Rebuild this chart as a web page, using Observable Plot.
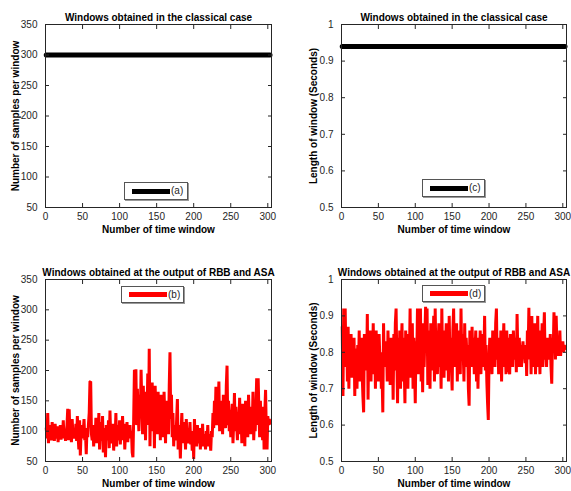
<!DOCTYPE html>
<html><head><meta charset="utf-8">
<script src="https://cdn.jsdelivr.net/npm/d3@7"></script>
<script src="https://cdn.jsdelivr.net/npm/@observablehq/plot@0.6"></script>
<style>
body{margin:0;background:#fff;}
#root{position:relative;width:571px;height:491px;overflow:hidden;background:#fff;font-family:"Liberation Sans",Arial,Helvetica,sans-serif;}
.panel{position:absolute;}
.legend{position:absolute;box-sizing:border-box;border:1px solid #555;background:#fff;box-shadow:1px 1px 0 #999;}
.legend .sw{position:absolute;}
.legend .lb{position:absolute;font-size:10px;line-height:10px;color:#262626;}
</style></head><body><div id="root"></div>
<script>
const xTicks = [0, 50, 100, 150, 200, 250, 300];
const sampleTicks = [50, 100, 150, 200, 250, 300, 350];
const secondTicks = [0.5, 0.6, 0.7, 0.8, 0.9, 1];
const titleClassical = "Windows obtained in the classical case";
const titleAdaptive = "Windows obtained at the output of RBB and ASA";
const xLabel = "Number of time window";
const ySamplesLabel = "Number of samples per window";
const yLengthLabel = "Length of window (Seconds)";
const legendLabels = ["(a)", "(b)", "(c)", "(d)"];
const windowCount = 303;
const classicalSamples = 300;
const classicalLength = 0.94;
const adaptiveSamples = [
105,88,130,80,110,92,100,85,115,90,
98,84,112,95,88,108,82,100,94,110,
86,104,92,118,88,100,84,96,110,137,
85,136,92,100,82,120,95,88,105,90,
112,84,125,92,70,118,60,98,110,88,
100,120,85,95,62,105,90,112,130,181,
182,95,85,110,75,100,88,122,80,108,
92,130,70,100,115,84,125,65,105,90,
57,110,95,85,118,72,134,90,100,80,
112,68,102,88,130,75,110,92,85,118,
78,108,95,125,85,112,70,100,90,115,
82,105,95,110,88,100,65,57,
120,201,150,202,110,170,130,
100,160,125,201,140,95,175,118,150,85,
165,120,195,110,236,75,160,130,180,100,
150,72,175,120,140,95,165,110,135,85,
160,100,145,90,165,125,80,150,105,140,
95,175,230,120,160,90,130,75,110,100,
85,120,153,70,110,95,55,100,130,80,
115,88,100,70,120,92,80,105,85,115,
78,100,68,95,54,120,85,100,75,110,
90,80,105,70,98,85,112,75,95,88,
70,100,82,110,75,95,85,68,100,90,
130,105,150,120,173,110,172,140,182,100,
150,115,135,95,160,120,140,105,175,208,
110,150,100,135,90,125,145,80,115,163,
100,140,110,85,130,115,155,95,120,80,
145,105,130,75,150,110,125,90,160,115,
140,95,130,105,165,85,120,100,140,187,
110,187,135,90,150,110,125,85,140,70,
130,168,100,70,125,110,120,113
];
const adaptiveLength = [
0.87,0.68,0.92,0.76,0.92,0.78,0.86,0.72,0.87,0.70,
0.84,0.76,0.85,0.73,0.82,0.78,0.84,0.68,0.81,0.80,
0.70,0.82,0.75,0.86,0.72,0.80,0.84,0.74,0.68,0.635,
0.85,0.78,0.80,0.75,0.905,0.67,0.83,0.77,0.86,0.72,
0.85,0.74,0.88,0.76,0.82,0.70,0.86,0.75,0.84,0.72,
0.85,0.78,0.80,0.70,0.74,0.635,0.88,0.76,0.83,0.78,
0.82,0.72,0.86,0.76,0.80,0.71,0.84,0.74,0.82,0.67,
0.85,0.75,0.88,0.92,0.78,0.66,0.84,0.73,0.86,0.70,
0.80,0.88,0.72,0.84,0.76,0.66,0.86,0.74,0.82,0.70,
0.85,0.78,0.92,0.73,0.82,0.88,0.70,0.84,0.76,0.66,
0.83,0.78,0.92,0.74,0.86,0.80,0.92,0.72,0.85,0.69,
0.88,0.76,0.84,0.925,0.80,0.92,0.71,0.86,0.78,0.70,
0.88,0.75,0.84,0.80,0.90,0.72,0.92,0.78,0.86,0.74,
0.82,0.88,0.76,0.85,0.70,0.92,0.78,0.84,0.73,0.86,
0.80,0.88,0.75,0.82,0.72,0.90,0.78,0.84,0.76,0.695,
0.86,0.92,0.76,0.83,0.78,0.88,0.72,0.84,0.80,0.86,
0.74,0.92,0.78,0.85,0.80,0.72,0.88,0.76,0.84,0.79,
0.82,0.70,0.653,0.86,0.80,0.76,0.87,0.78,0.84,0.74,
0.80,0.86,0.72,0.84,0.70,0.82,0.78,0.86,0.74,0.82,
0.76,0.85,0.79,0.90,0.75,0.82,0.72,0.66,0.614,0.78,
0.84,0.76,0.82,0.74,0.86,0.78,0.84,0.76,0.88,0.92,
0.78,0.84,0.74,0.82,0.76,0.86,0.72,0.84,0.80,0.88,
0.76,0.82,0.74,0.86,0.79,0.84,0.75,0.74,0.85,0.78,
0.82,0.76,0.86,0.80,0.78,0.84,0.745,0.905,0.80,0.76,
0.84,0.78,0.82,0.76,0.80,0.83,0.79,0.81,0.77,0.82,
0.735,0.86,0.80,0.922,0.78,0.85,0.74,0.90,0.76,0.84,
0.78,0.88,0.74,0.85,0.80,0.90,0.76,0.84,0.74,0.86,
0.80,0.88,0.76,0.84,0.91,0.78,0.82,0.76,0.84,0.80,
0.82,0.78,0.85,0.76,0.714,0.84,0.80,0.91,0.86,0.78,
0.90,0.82,0.79,0.84,0.80,0.86,0.79,0.82,0.80,0.83,
0.80,0.82,0.81
];

const FONT = '"Liberation Sans", Arial, Helvetica, sans-serif';
const xDomain = [0, 305];

function makePanel({series, color, lineWidth, yDomain, yTicks, title, yLabel, yLabelDx, w, h, ml, mr, mt, mb}) {
  const data = series.map((v, i) => ({x: i + 1, y: v}));
  return Plot.plot({
    width: w, height: h,
    marginLeft: ml, marginRight: mr, marginTop: mt, marginBottom: mb,
    x: {domain: xDomain},
    y: {domain: yDomain},
    style: {fontFamily: FONT, fontSize: "10px", color: "#262626", background: "white", overflow: "visible"},
    marks: [
      Plot.line(data, {x: "x", y: "y", stroke: color, strokeWidth: lineWidth, strokeLinejoin: "miter", strokeMiterlimit: 2}),
      Plot.frame({stroke: "#262626"}),
      Plot.axisX(xTicks, {anchor: "bottom", tickSize: 4, dy: -4, fill: "none", label: null}),
      Plot.axisX(xTicks, {anchor: "top", tickSize: 4, dy: 4, fill: "none", label: null}),
      Plot.axisY(yTicks, {anchor: "left", tickSize: 4, dx: 4, fill: "none", label: null}),
      Plot.axisY(yTicks, {anchor: "right", tickSize: 4, dx: -4, fill: "none", label: null}),
      Plot.axisX(xTicks, {anchor: "bottom", tickSize: 0, tickPadding: 5, tickFormat: d => String(d), label: null}),
      Plot.axisY(yTicks, {anchor: "left", tickSize: 0, tickPadding: 8, tickFormat: d => String(d), label: null}),
      Plot.text([title], {text: d => d, frameAnchor: "top", textAnchor: "middle", lineAnchor: "bottom", dy: -4, fontWeight: "bold", fill: "black", fontSize: 10}),
      Plot.text([xLabel], {text: d => d, frameAnchor: "bottom", textAnchor: "middle", dy: 25, fontWeight: "bold", fill: "black", fontSize: 10}),
      Plot.text([yLabel], {text: d => d, frameAnchor: "left", textAnchor: "middle", rotate: -90, dx: yLabelDx, fontWeight: "bold", fill: "black", fontSize: 10})
    ]
  });
}

const root = document.getElementById("root");
function place(node, left, top) {
  node.classList.add("panel");
  node.style.left = left + "px";
  node.style.top = top + "px";
  root.appendChild(node);
}

const constSamples = Array(windowCount).fill(classicalSamples);
const constLength = Array(windowCount).fill(classicalLength);

place(makePanel({series: constSamples, color: "black", lineWidth: 5, yDomain: [50, 350], yTicks: sampleTicks,
  title: titleClassical, yLabel: ySamplesLabel, yLabelDx: -30, w: 285, h: 245, ml: 45, mr: 14, mt: 24, mb: 38}), 0, 0);
place(makePanel({series: constLength, color: "black", lineWidth: 5, yDomain: [0.5, 1], yTicks: secondTicks,
  title: titleClassical, yLabel: yLengthLabel, yLabelDx: -28, w: 286, h: 245, ml: 56, mr: 5, mt: 24, mb: 38}), 285, 0);
place(makePanel({series: adaptiveSamples, color: "#ff0000", lineWidth: 3, yDomain: [50, 350], yTicks: sampleTicks,
  title: titleAdaptive, yLabel: ySamplesLabel, yLabelDx: -30, w: 285, h: 246, ml: 45, mr: 14, mt: 34, mb: 30}), 0, 245);
place(makePanel({series: adaptiveLength, color: "#ff0000", lineWidth: 3, yDomain: [0.5, 1], yTicks: secondTicks,
  title: titleAdaptive, yLabel: yLengthLabel, yLabelDx: -28, w: 286, h: 246, ml: 56, mr: 5, mt: 34, mb: 30}), 285, 245);

// legends (layout boxes)
const legendSpecs = [
  {label: legendLabels[0], color: "black", left: 124, top: 182, width: 64, height: 18},
  {label: legendLabels[1], color: "#ff0000", left: 121, top: 286, width: 63, height: 17},
  {label: legendLabels[2], color: "black", left: 422, top: 179, width: 63, height: 18},
  {label: legendLabels[3], color: "#ff0000", left: 422, top: 285, width: 63, height: 17}
];
for (const s of legendSpecs) {
  const box = document.createElement("div");
  box.className = "legend";
  Object.assign(box.style, {left: s.left + "px", top: s.top + "px", width: s.width + "px", height: s.height + "px"});
  const sw = document.createElement("div");
  sw.className = "sw";
  Object.assign(sw.style, {left: "7px", top: (s.height / 2 - 3.5) + "px", width: "38px", height: "5px", background: s.color});
  const lb = document.createElement("div");
  lb.className = "lb";
  lb.textContent = s.label;
  Object.assign(lb.style, {left: "46px", top: (s.height / 2 - 6) + "px"});
  box.appendChild(sw);
  box.appendChild(lb);
  root.appendChild(box);
}
</script></body></html>
